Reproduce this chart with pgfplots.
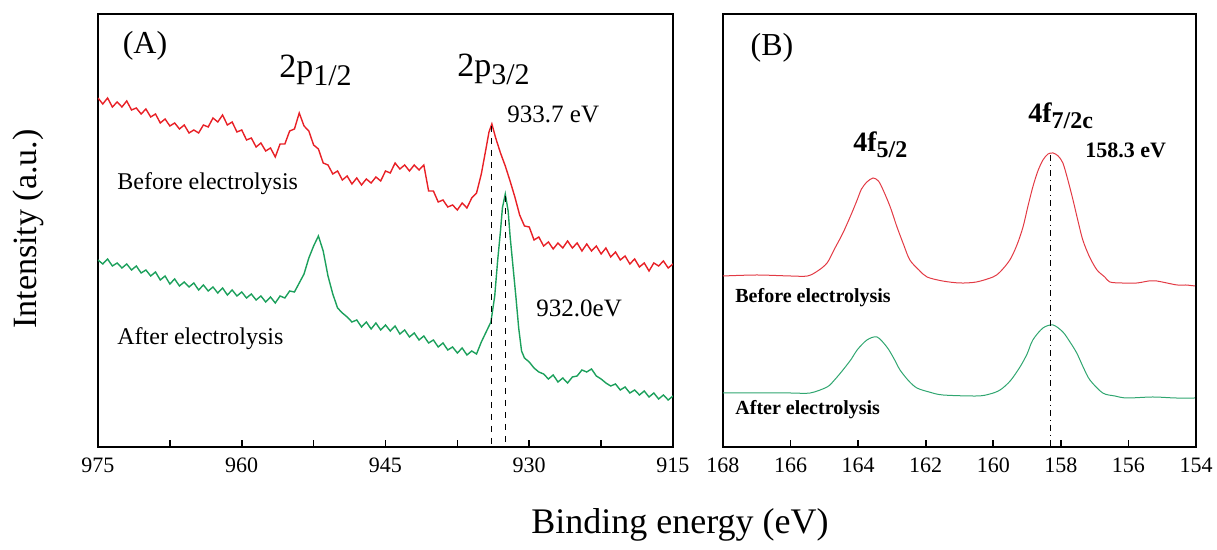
\documentclass[border=0pt]{standalone}
\usepackage{fontspec}
\setmainfont{Liberation Serif}
\usepackage{pgfplots}
\pgfplotsset{compat=1.18}
\definecolor{redA}{RGB}{232,32,38}
\definecolor{greenA}{RGB}{28,160,92}
\definecolor{redB}{RGB}{226,58,68}
\definecolor{greenB}{RGB}{48,166,112}
\newcommand{\fs}[1]{\fontsize{#1}{#1}\selectfont}
\begin{document}
\begin{tikzpicture}
\path[use as bounding box] (0,0) rectangle (608.5pt,275pt);
\pgfplotsset{
  panel/.style={
    anchor=south west, scale only axis, height=216.5pt,
    x dir=reverse, ytick=\empty, xtick pos=bottom, tick align=inside,
    major tick length=3.5pt, minor tick length=3.5pt,
    axis line style={line width=1pt},
    every tick/.style={black, line width=0.8pt},
    every minor tick/.style={black, line width=0.8pt},
    /pgf/number format/assume math mode=true,
    xticklabel style={font=\fs{11}, yshift=-2pt},
  }
}
\begin{axis}[panel, at={(49pt,51.5pt)}, width=287.5pt,
  xmin=915, xmax=975, ymin=-1, ymax=432,
  xtick={915,930,945,960,975}, minor xtick={922.5,937.5,952.5,967.5}]
\addplot[redA, line width=0.7pt] coordinates {
(975.0,348)(974.5,342)(974.0,348)(973.5,339)(973.0,344)(972.5,339)(972.0,345)(971.5,336)(971.0,338)(970.5,332)(970.0,337)(969.5,329)(969.0,332)(968.5,323)(968.0,327)(967.5,320)(967.0,323)(966.5,317)(966.0,321)(965.5,313)(965.0,316)(964.5,313)(964.0,321)(963.5,319)(963.0,328)(962.5,324)(962.0,331)(961.5,321)(961.0,324)(960.5,314)(960.0,316)(959.5,306)(959.0,308)(958.5,299)(958.0,303)(957.5,295)(957.0,298)(956.5,289)(956.0,302)(955.5,302)(955.0,315)(954.5,317)(954.0,333)(953.5,320)(953.0,315)(952.5,301)(952.0,297)(951.5,283)(951.0,281)(950.5,272)(950.0,275)(949.5,266)(949.0,270)(948.5,262)(948.0,268)(947.5,261)(947.0,267)(946.5,263)(946.0,269)(945.5,265)(945.0,275)(944.5,273)(944.0,283)(943.5,277)(943.0,281)(942.5,275)(942.0,281)(941.5,276)(941.0,281)(940.5,255)(940.0,255)(939.5,244)(939.0,246)(938.5,239)(938.0,241)(937.5,236)(937.0,243)(936.5,238)(936.0,248)(935.5,253)(935.0,272)(934.5,298)(934.2,314)(933.9,322)(933.5,308)(933.0,293)(932.5,280)(932.0,265)(931.5,249)(931.0,231)(930.5,220)(930.0,219)(929.5,206)(929.0,209)(928.5,200)(928.0,204)(927.5,197)(927.0,203)(926.5,198)(926.0,205)(925.5,198)(925.0,203)(924.5,195)(924.0,202)(923.5,195)(923.0,200)(922.5,192)(922.0,198)(921.5,189)(921.0,194)(920.5,186)(920.0,190)(919.5,182)(919.0,187)(918.5,179)(918.0,183)(917.5,175)(917.0,183)(916.5,180)(916.0,185)(915.5,178)(915.0,182)
};
\addplot[greenA, line width=0.7pt] coordinates {
(975.0,186)(974.5,182)(974.0,187)(973.5,180)(973.0,183)(972.5,178)(972.0,182)(971.5,176)(971.0,180)(970.5,173)(970.0,176)(969.5,170)(969.0,174)(968.5,166)(968.0,170)(967.5,162)(967.0,167)(966.5,160)(966.0,164)(965.5,159)(965.0,163)(964.5,156)(964.0,161)(963.5,155)(963.0,159)(962.5,153)(962.0,158)(961.5,151)(961.0,156)(960.5,150)(960.0,154)(959.5,148)(959.0,152)(958.5,146)(958.0,150)(957.5,144)(957.0,149)(956.5,143)(956.0,150)(955.5,148)(955.0,155)(954.5,154)(954.0,163)(953.5,172)(953.0,188)(952.5,200)(952.0,210)(951.5,195)(951.0,170)(950.5,152)(950.0,138)(949.5,133)(949.0,129)(948.5,124)(948.0,126)(947.5,119)(947.0,124)(946.5,117)(946.0,123)(945.5,116)(945.0,121)(944.5,115)(944.0,120)(943.5,112)(943.0,116)(942.5,109)(942.0,113)(941.5,106)(941.0,110)(940.5,103)(940.0,106)(939.5,99)(939.0,103)(938.5,96)(938.0,99)(937.5,93)(937.0,98)(936.5,91)(936.0,95)(935.5,92)(935.0,104)(934.5,114)(934.0,124)(933.6,150)(933.3,185)(933.0,215)(932.8,238)(932.5,252)(932.2,235)(932.0,210)(931.7,180)(931.4,150)(931.1,118)(930.8,95)(930.5,88)(930.0,84)(929.5,78)(929.0,74)(928.5,72)(928.0,67)(927.5,71)(927.0,64)(926.5,68)(926.0,63)(925.5,69)(925.0,70)(924.5,76)(924.0,74)(923.5,77)(923.0,70)(922.5,67)(922.0,63)(921.5,60)(921.0,62)(920.5,56)(920.0,59)(919.5,53)(919.0,56)(918.5,51)(918.0,55)(917.5,49)(917.0,53)(916.5,47)(916.0,51)(915.5,46)(915.0,50)
};
\addplot[black, line width=0.5pt, dashed] coordinates {(933.9,320)(933.9,-1)};
\addplot[black, line width=0.5pt, dashed] coordinates {(932.5,250)(932.5,-1)};
\end{axis}
\begin{axis}[panel, at={(361.5pt,51.5pt)}, width=236.5pt,
  xmin=154, xmax=168, ymin=0, ymax=433,
  xtick={154,156,...,168}]
\addplot[redB, line width=0.5pt, smooth] coordinates {
(168.0,171)(167.0,172)(166.0,171)(165.5,171)(165.2,176)(164.92,184)(164.7,198)(164.45,214)(164.2,233)(164.03,247)(163.9,258)(163.74,265)(163.56,269)(163.4,266)(163.26,257)(163.05,240)(162.85,220)(162.65,202)(162.47,187)(162.2,177)(161.96,170)(161.5,166)(160.99,164)(160.5,165)(160.01,170)(159.8,175)(159.51,187)(159.3,202)(159.12,220)(158.98,240)(158.83,260)(158.68,276)(158.53,287)(158.38,293)(158.23,294)(158.08,291)(157.94,284)(157.8,268)(157.64,247)(157.5,227)(157.35,207)(157.15,190)(156.93,177)(156.7,170)(156.55,165)(156.2,164)(155.75,164)(155.4,166)(155.16,166)(155.0,165)(154.56,162)(154.3,162)(154.03,161)
};
\addplot[greenB, line width=0.5pt, smooth] coordinates {
(168.0,54)(167.0,54)(166.0,54)(165.42,54)(164.92,60)(164.7,67)(164.45,77)(164.2,88)(164.03,97)(163.74,107)(163.44,110)(163.15,100)(162.95,89)(162.76,77)(162.5,66)(162.26,59)(161.9,55)(161.49,52)(160.48,51)(160.1,53)(159.80,57)(159.5,66)(159.21,80)(159.0,93)(158.83,107)(158.53,119)(158.23,122)(157.94,115)(157.73,105)(157.53,94)(157.34,80)(157.14,67)(156.76,54)(156.4,51)(156.05,49)(155.28,50)(154.6,49)(154.03,49)
};
\addplot[black, line width=0.5pt, dash dot] coordinates {(158.3,292)(158.3,0)};
\end{axis}
% texts
\node[font=\fs{16}] at (72.5pt,252pt) {(A)};
\node[font=\fs{16}] at (386pt,251pt) {(B)};
\node[font=\fs{17}, anchor=base west, inner sep=0pt] at (139.5pt,236pt) {2p\textsubscript{\fs{15}1/2}};
\node[font=\fs{17}, anchor=base west, inner sep=0pt] at (228.5pt,236.5pt) {2p\textsubscript{\fs{15}3/2}};
\node[font=\fs{12.5}, anchor=base west, inner sep=0pt] at (253.5pt,213.5pt) {933.7 eV};
\node[font=\fs{12.5}, anchor=base west, inner sep=0pt] at (268pt,116.5pt) {932.0eV};
\node[font=\fs{12}, anchor=base west, inner sep=0pt] at (58.5pt,180pt) {Before electrolysis};
\node[font=\fs{12}, anchor=base west, inner sep=0pt] at (58.5pt,102.5pt) {After electrolysis};
\node[font=\fs{14}\bfseries, anchor=base west, inner sep=0pt] at (426.5pt,199pt) {4f\textsubscript{\fs{12}5/2}};
\node[font=\fs{14}\bfseries, anchor=base west, inner sep=0pt] at (514pt,213.5pt) {4f\textsubscript{\fs{12}7/2c}};
\node[font=\fs{11}\bfseries, anchor=base west, inner sep=0pt] at (542.5pt,196pt) {158.3 eV};
\node[font=\fs{10}\bfseries, anchor=base west, inner sep=0pt] at (367.5pt,123.5pt) {Before electrolysis};
\node[font=\fs{10}\bfseries, anchor=base west, inner sep=0pt] at (367.5pt,67.5pt) {After electrolysis};
\node[font=\fs{18}] at (340pt,12.5pt) {Binding energy (eV)};
\node[font=\fs{17}, rotate=90] at (14pt,160.5pt) {Intensity (a.u.)};
\end{tikzpicture}
\end{document}
